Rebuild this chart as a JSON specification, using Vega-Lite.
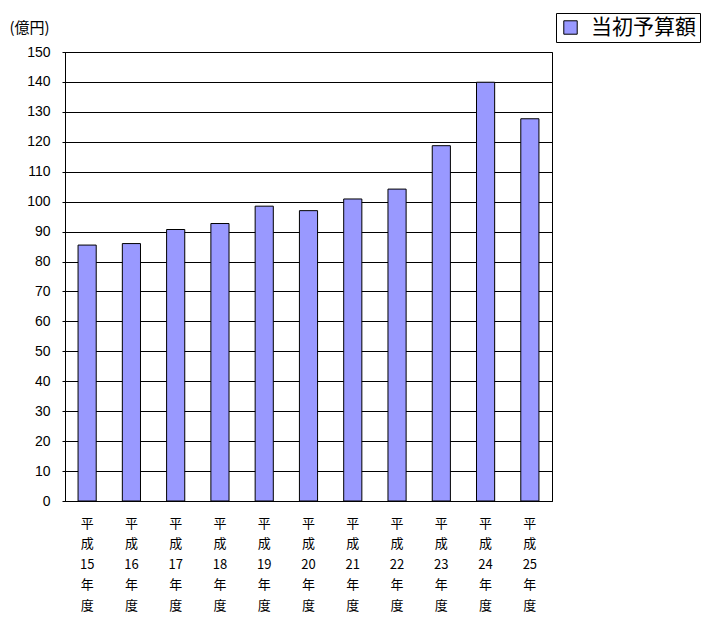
{
  "$schema": "https://vega.github.io/schema/vega-lite/v6.json",
  "autosize": "none",
  "width": 487,
  "height": 449,
  "padding": {"left": 65, "top": 52, "right": 161, "bottom": 118},
  "background": "white",
  "data": {"values": [
    {"year": "平成15年度", "value": 85.5, "series": "当初予算額"},
    {"year": "平成16年度", "value": 86.0, "series": "当初予算額"},
    {"year": "平成17年度", "value": 90.7, "series": "当初予算額"},
    {"year": "平成18年度", "value": 92.7, "series": "当初予算額"},
    {"year": "平成19年度", "value": 98.5, "series": "当初予算額"},
    {"year": "平成20年度", "value": 97.0, "series": "当初予算額"},
    {"year": "平成21年度", "value": 100.9, "series": "当初予算額"},
    {"year": "平成22年度", "value": 104.2, "series": "当初予算額"},
    {"year": "平成23年度", "value": 118.7, "series": "当初予算額"},
    {"year": "平成24年度", "value": 139.9, "series": "当初予算額"},
    {"year": "平成25年度", "value": 127.7, "series": "当初予算額"}
  ]},
  "mark": {"type": "bar", "stroke": "black", "strokeWidth": 1},
  "encoding": {
    "x": {
      "field": "year", "type": "nominal", "sort": null,
      "scale": {"paddingInner": 0.59, "paddingOuter": 0.295},
      "axis": {
        "title": null, "labelAngle": 0,
        "labelExpr": "['平','成',substring(datum.value,2,4),'年','度']",
        "labelFont": "Noto Sans CJK JP", "labelFontSize": 13, "labelColor": "black",
        "labelLineHeight": 20.5, "labelPadding": 16,
        "ticks": false, "domainColor": "black", "grid": false
      }
    },
    "y": {
      "field": "value", "type": "quantitative",
      "scale": {"domain": [0, 150]},
      "axis": {
        "values": [0,10,20,30,40,50,60,70,80,90,100,110,120,130,140,150],
        "title": "(億円)", "titleAngle": 0, "titleX": -56, "titleY": -25,
        "titleAlign": "left", "titleBaseline": "middle",
        "titleFont": "Noto Sans CJK JP", "titleFontSize": 15, "titleFontWeight": "normal", "titleColor": "black",
        "labelFont": "Liberation Sans", "labelFontSize": 14, "labelColor": "black",
        "labelPadding": 12, "tickSize": 3, "tickColor": "black",
        "domainColor": "black", "gridColor": "black", "gridOpacity": 1, "gridWidth": 1
      }
    },
    "color": {
      "field": "series", "type": "nominal",
      "scale": {"range": ["#9999FF"]},
      "legend": {
        "title": null, "orient": "none", "legendX": 491, "legendY": -39,
        "strokeColor": "black", "padding": 4,
        "symbolType": "square", "symbolSize": 180, "symbolStrokeColor": "black", "symbolStrokeWidth": 1,
        "labelFont": "Noto Sans CJK JP", "labelFontSize": 21, "labelColor": "black",
        "labelOffset": 10, "labelLimit": 200
      }
    }
  },
  "config": {
    "view": {"stroke": "black", "strokeWidth": 1}
  }
}
